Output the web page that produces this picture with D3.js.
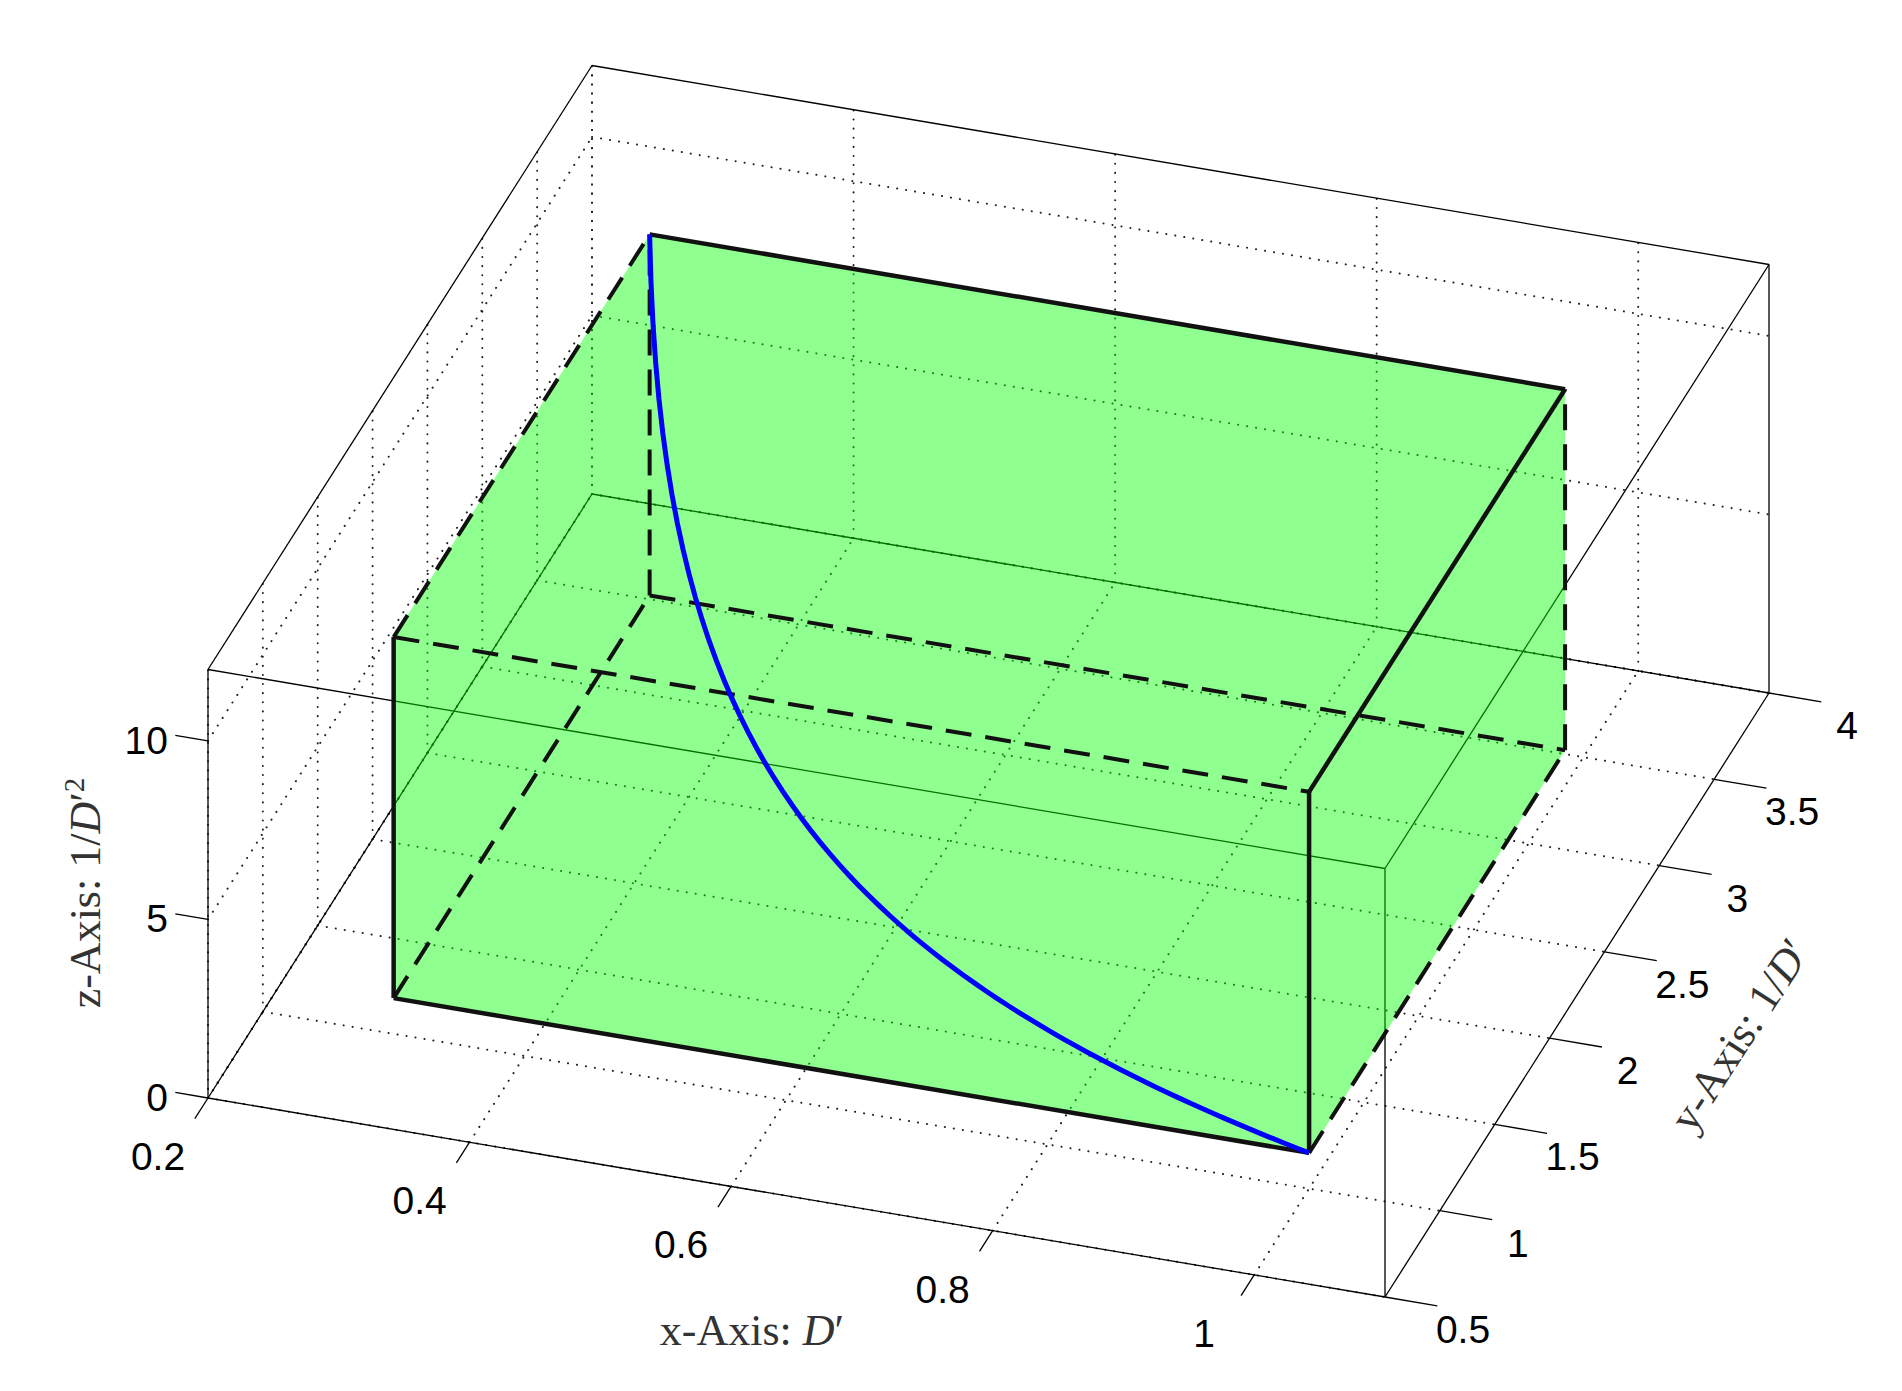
<!DOCTYPE html>
<html><head><meta charset="utf-8">
<script src="https://cdn.jsdelivr.net/npm/d3@7"></script>
<style>body{margin:0;background:#fff}</style></head>
<body><svg id="c" width="1902" height="1391"></svg>
<script>
const xTicks=[0.2,0.4,0.6,0.8,1];
const yTicks=[0.5,1,1.5,2,2.5,3,3.5,4];
const zTicks=[0,5,10];
const xDomain=[0.2,1.1], yDomain=[0.5,4], zDomain=[0,12];
const boxX=[0.3,1], boxY=[1,1/0.3], boxZ=[1,1/0.09];
const curveD=d3.range(0,71).map(i=>0.3+i*0.01);
const curve=curveD.map(d=>[d,1/d,1/(d*d)]);

const sx=d3.scaleLinear().domain(xDomain).range([0,1]);
const sy=d3.scaleLinear().domain(yDomain).range([0,1]);
const sz=d3.scaleLinear().domain(zDomain).range([0,1]);
const O=[208,1098], EX=[1177,199], EY=[384,-604], EZ=[0,-428.5];
function P(x,y,z){const a=sx(x),b=sy(y),c=sz(z);return [O[0]+a*EX[0]+b*EY[0]+c*EZ[0],O[1]+a*EX[1]+b*EY[1]+c*EZ[1]];}
const svg=d3.select("#c");
const line=d3.line();
function seg(p,q,st){return svg.append("path").attr("d",line([P(...p),P(...q)])).attr("fill","none").attr("stroke",st.c||"#000").attr("stroke-width",st.w||1.2).attr("stroke-dasharray",st.d||null).attr("stroke-linecap",st.cap||null);}
const [x0,x1]=xDomain,[y0,y1]=yDomain,[z0,z1]=zDomain;
const dot={c:"#222",w:2,d:"0.1,9",cap:"round"};
xTicks.forEach(x=>seg([x,y0,z0],[x,y1,z0],dot));
yTicks.forEach(y=>seg([x0,y,z0],[x1,y,z0],dot));
xTicks.forEach(x=>seg([x,y1,z0],[x,y1,z1],dot));
zTicks.forEach(z=>seg([x0,y1,z],[x1,y1,z],dot));
yTicks.forEach(y=>seg([x0,y,z0],[x0,y,z1],dot));
zTicks.forEach(z=>seg([x0,y0,z],[x0,y1,z],dot));
const th={w:1.3};
[[[x0,y0,z0],[x1,y0,z0]],[[x1,y0,z0],[x1,y1,z0]],[[x0,y0,z0],[x0,y0,z1]],[[x1,y0,z0],[x1,y0,z1]],[[x1,y1,z0],[x1,y1,z1]],
 [[x0,y0,z1],[x1,y0,z1]],[[x1,y0,z1],[x1,y1,z1]],[[x1,y1,z1],[x0,y1,z1]],[[x0,y1,z1],[x0,y0,z1]],[[x0,y1,z0],[x1,y1,z0]],[[x0,y1,z0],[x0,y0,z0]]]
 .forEach(e=>seg(e[0],e[1],th));
const [bx0,bx1]=boxX,[by0,by1]=boxY,[bz0,bz1]=boxZ;
const hull=[[bx0,by0,bz0],[bx1,by0,bz0],[bx1,by1,bz0],[bx1,by1,bz1],[bx0,by1,bz1],[bx0,by0,bz1]].map(p=>P(...p));
svg.append("path").attr("d",line(hull)+"Z").attr("fill","#00ff00").attr("fill-opacity",0.44);
const sol={w:4.5,c:"#111"}, dsh={w:4,c:"#111",d:"26,14"};
[[[bx0,by0,bz0],[bx0,by1,bz0],dsh],[[bx0,by1,bz0],[bx1,by1,bz0],dsh],[[bx0,by1,bz0],[bx0,by1,bz1],dsh],
 [[bx1,by0,bz0],[bx1,by1,bz0],dsh],[[bx1,by1,bz0],[bx1,by1,bz1],dsh],[[bx0,by0,bz1],[bx1,by0,bz1],dsh],[[bx0,by0,bz1],[bx0,by1,bz1],dsh],
 [[bx0,by0,bz0],[bx1,by0,bz0],sol],[[bx0,by0,bz0],[bx0,by0,bz1],sol],[[bx1,by0,bz0],[bx1,by0,bz1],sol],
 [[bx0,by1,bz1],[bx1,by1,bz1],sol],[[bx1,by0,bz1],[bx1,by1,bz1],sol]].forEach(e=>seg(e[0],e[1],e[2]));
svg.append("path").attr("d",line(curve.map(p=>P(...p)))).attr("fill","none").attr("stroke","#0000ff").attr("stroke-width",5);
const tf="Liberation Sans, Arial, sans-serif", fs=39;
xTicks.forEach(x=>{seg([x,y0,z0],[x,y0-0.12,z0],{w:1.3});const p=P(x,y0,z0);
 svg.append("text").attr("x",p[0]-50).attr("y",p[1]+72).attr("text-anchor","middle").attr("font-family",tf).attr("font-size",fs).text(x);});
yTicks.forEach(y=>{seg([x1,y,z0],[x1+0.04,y,z0],{w:1.3});const p=P(x1,y,z0);
 svg.append("text").attr("x",p[0]+78).attr("y",p[1]+46).attr("text-anchor","middle").attr("font-family",tf).attr("font-size",fs).text(y);});
zTicks.forEach(z=>{seg([x0,y0,z],[x0-0.025,y0,z],{w:1.3});const p=P(x0,y0,z);
 svg.append("text").attr("x",p[0]-40).attr("y",p[1]+13).attr("text-anchor","end").attr("font-family",tf).attr("font-size",fs).text(z);});
const sf="Liberation Serif, Times New Roman, serif";
function lab(x,y,rot,parts){const t=svg.append("text").attr("transform",`translate(${x},${y}) rotate(${rot})`).attr("text-anchor","middle").attr("font-family",sf).attr("font-size",44).attr("fill","#333");
 parts.forEach(p=>{const s=t.append("tspan").text(p[0]);if(p[1])s.attr("font-style","italic");if(p[2])s.attr("dy",p[2]).attr("font-size",29);});}
lab(752,1345,0,[["x-Axis:  "],["D",1],["′"]]);
lab(1752,1043,-57,[["y-Axis:  1/"],["D",1],["′"]]);
lab(100,893,-90,[["z-Axis:  1/"],["D",1],["′"],["2",0,-16]]);
</script></body></html>
